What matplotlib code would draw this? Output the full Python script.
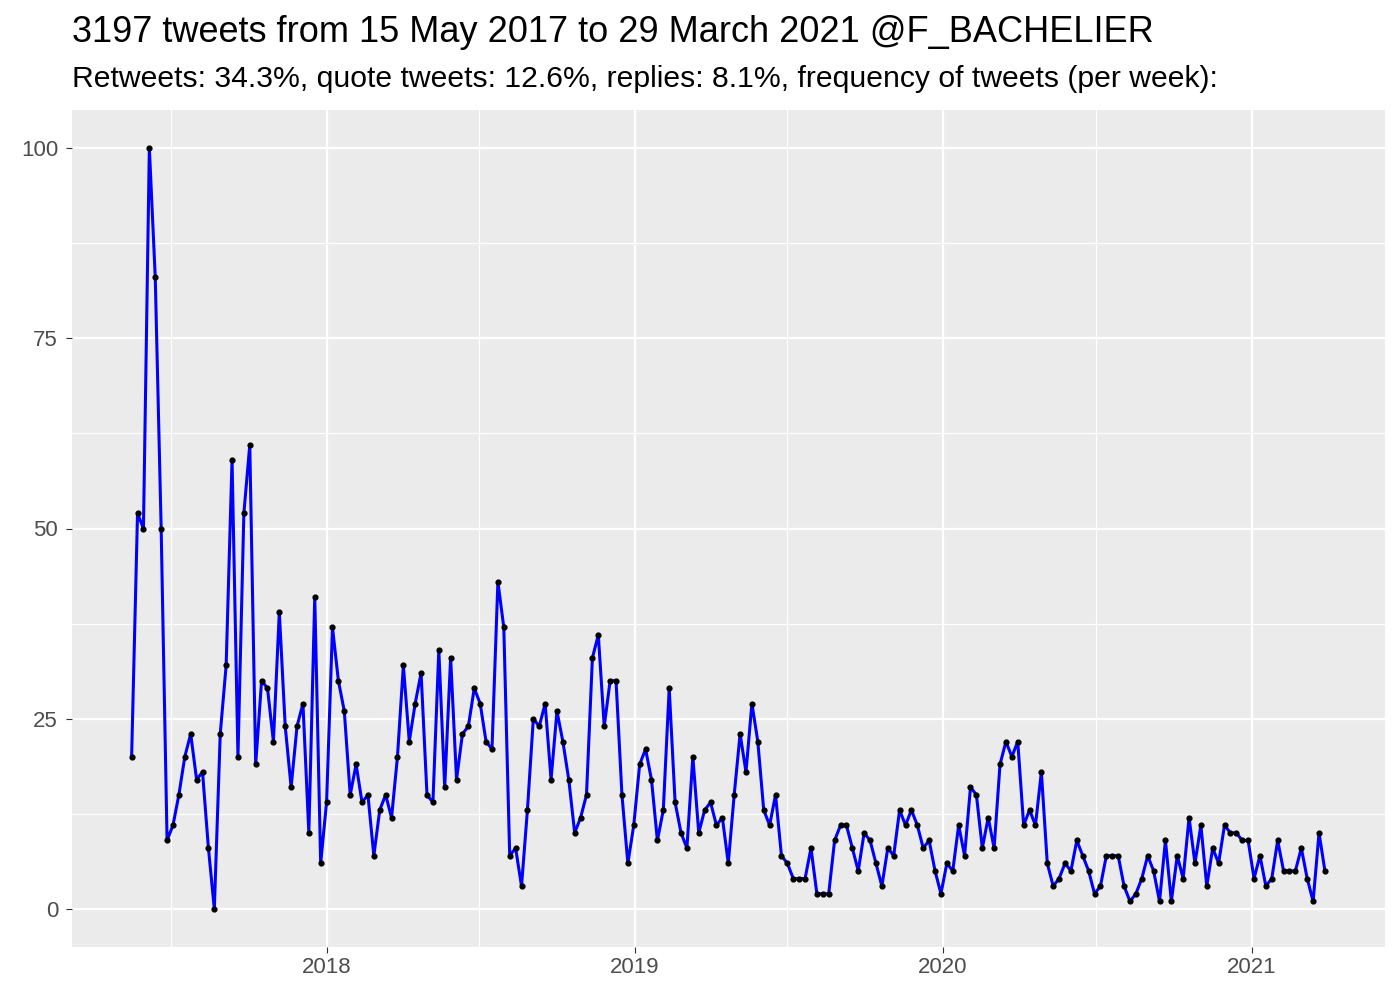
import matplotlib
matplotlib.use("Agg")
import matplotlib.pyplot as plt
import matplotlib.dates as mdates
import numpy as np
import pandas as pd

# Weekly tweet counts, 15 May 2017 -> 29 March 2021
start_date = "2017-05-15"
end_date = "2021-03-29"
tweets_per_week = [
    20, 52, 50, 100, 83, 50, 9, 11, 15, 20, 23, 17, 18, 8, 0, 23, 32, 59, 20, 52,
    61, 19, 30, 29, 22, 39, 24, 16, 24, 27, 10, 41, 6, 14, 37, 30, 26, 15, 19, 14,
    15, 7, 13, 15, 12, 20, 32, 22, 27, 31, 15, 14, 34, 16, 33, 17, 23, 24, 29, 27,
    22, 21, 43, 37, 7, 8, 3, 13, 25, 24, 27, 17, 26, 22, 17, 10, 12, 15, 33, 36,
    24, 30, 30, 15, 6, 11, 19, 21, 17, 9, 13, 29, 14, 10, 8, 20, 10, 13, 14, 11,
    12, 6, 15, 23, 18, 27, 22, 13, 11, 15, 7, 6, 4, 4, 4, 8, 2, 2, 2, 9,
    11, 11, 8, 5, 10, 9, 6, 3, 8, 7, 13, 11, 13, 11, 8, 9, 5, 2, 6, 5,
    11, 7, 16, 15, 8, 12, 8, 19, 22, 20, 22, 11, 13, 11, 18, 6, 3, 4, 6, 5,
    9, 7, 5, 2, 3, 7, 7, 7, 3, 1, 2, 4, 7, 5, 1, 9, 1, 7, 4, 12,
    6, 11, 3, 8, 6, 11, 10, 10, 9, 9, 4, 7, 3, 4, 9, 5, 5, 5, 8, 4,
    1, 10, 5,
]
weeks = pd.date_range(start_date, periods=len(tweets_per_week), freq="7D")

title = "3197 tweets from 15 May 2017 to 29 March 2021 @F_BACHELIER"
subtitle = "Retweets: 34.3%, quote tweets: 12.6%, replies: 8.1%, frequency of tweets (per week):"

plt.rcParams["font.family"] = ["Liberation Sans", "DejaVu Sans"]

fig = plt.figure(figsize=(14, 10), dpi=100)
ax = fig.add_axes([0.0514, 0.053, 0.9376, 0.837])
ax.set_facecolor("#EBEBEB")

ax.plot(weeks, tweets_per_week, color="blue", linewidth=2.2, zorder=3)
ax.scatter(weeks, tweets_per_week, s=12, color="black", zorder=4)

# ggplot-like expansion (5%)
x0 = mdates.date2num(weeks[0])
x1 = mdates.date2num(weeks[-1])
dx = (x1 - x0) * 0.05
ax.set_xlim(x0 - dx, x1 + dx)
ax.set_ylim(-5, 105)

ax.set_yticks([0, 25, 50, 75, 100])
ax.set_yticks([12.5, 37.5, 62.5, 87.5], minor=True)
ax.xaxis.set_major_locator(mdates.YearLocator())
ax.xaxis.set_major_formatter(mdates.DateFormatter("%Y"))
ax.xaxis.set_minor_locator(mdates.MonthLocator(bymonth=7))

ax.grid(which="major", color="white", linewidth=1.6)
ax.grid(which="minor", color="white", linewidth=0.8)
ax.set_axisbelow(True)
for s in ax.spines.values():
    s.set_visible(False)

ax.tick_params(which="major", length=4, color="#333333", labelsize=16, labelcolor="#4D4D4D")
ax.tick_params(axis="y", pad=6)
ax.tick_params(which="minor", length=0)

fig.text(0.0514, 0.968, title, fontsize=26, ha="left", va="center", color="black")
fig.text(0.0514, 0.921, subtitle, fontsize=21.7, ha="left", va="center", color="black")

fig.savefig("out.png", dpi=100)
